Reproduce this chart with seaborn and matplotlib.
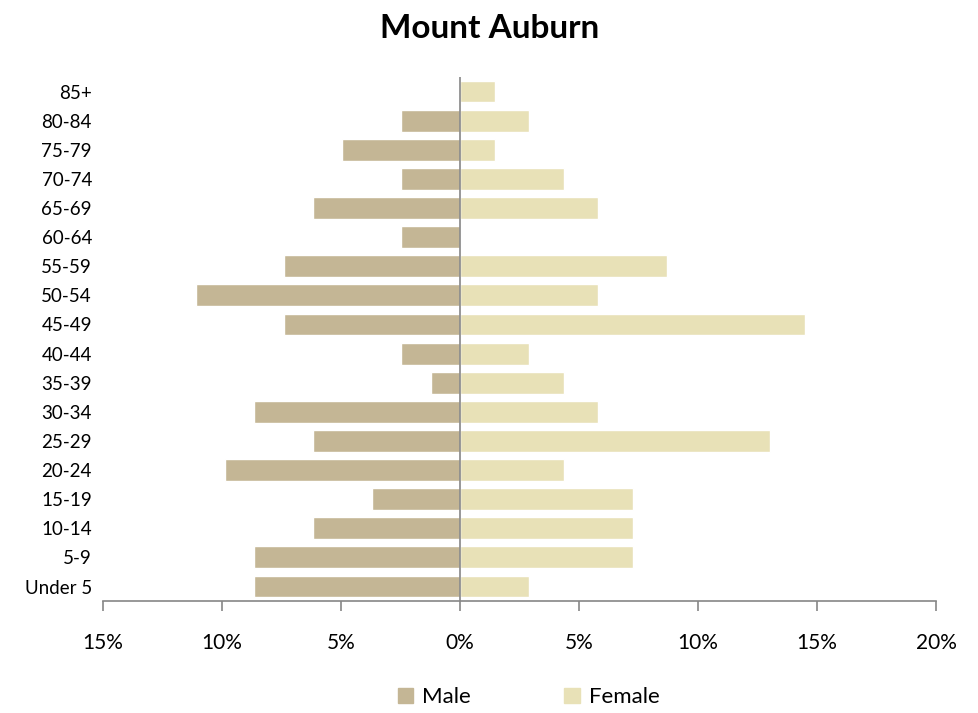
import seaborn as sns
import matplotlib.pyplot as plt
import pandas as pd

ages = ['85+', '80-84', '75-79', '70-74', '65-69', '60-64', '55-59', '50-54', '45-49',
        '40-44', '35-39', '30-34', '25-29', '20-24', '15-19', '10-14', '5-9', 'Under 5']
male = [0.0, 2.47, 4.94, 2.47, 6.17, 2.47, 7.41, 11.11, 7.41,
        2.47, 1.23, 8.64, 6.17, 9.88, 3.70, 6.17, 8.64, 8.64]
female = [1.45, 2.90, 1.45, 4.35, 5.80, 0.0, 8.70, 5.80, 14.49,
          2.90, 4.35, 5.80, 13.04, 4.35, 7.25, 7.25, 7.25, 2.90]

df = pd.DataFrame({
    'age': ages * 2,
    'value': [-v for v in male] + female,
    'sex': ['Male'] * len(ages) + ['Female'] * len(ages),
})

sns.set_style('white')
plt.rcParams['font.family'] = ['Lato', 'DejaVu Sans']
plt.rcParams['text.color'] = 'black'
plt.rcParams['xtick.color'] = 'black'
plt.rcParams['ytick.color'] = 'black'

fig = plt.figure(figsize=(9.79, 7.13), dpi=100)
ax = fig.add_axes([0.1052, 0.157, 0.851, 0.735])

sns.barplot(data=df, x='value', y='age', hue='sex', order=ages, dodge=False,
            palette={'Male': '#C4B695', 'Female': '#E8E1B7'}, orient='h',
            width=0.75, ax=ax, legend=False, saturation=1)

ax.set_xlim(-15, 20)
ax.set_ylim(len(ages) - 0.5, -0.5)
ax.axvline(0, color='#868686', lw=1.2)
ax.set_xticks([-15, -10, -5, 0, 5, 10, 15, 20])
ax.set_xticklabels([f'{abs(t)}%' for t in [-15, -10, -5, 0, 5, 10, 15, 20]], fontsize=15)
ax.tick_params(axis='x', direction='out', length=7, width=1.2, color='#868686',
               labelcolor='black', pad=16, bottom=True)
ax.tick_params(axis='y', length=0, labelsize=13.5, labelcolor='black', pad=8)
ax.set_xlabel('')
ax.set_ylabel('')
for s in ['top', 'right', 'left']:
    ax.spines[s].set_visible(False)
ax.spines['bottom'].set_color('#868686')
ax.spines['bottom'].set_linewidth(1.2)

fig.suptitle('Mount Auburn', fontsize=24, fontweight='bold', y=0.98, color='black')

handles = [plt.Rectangle((0, 0), 1, 1, color='#C4B695'),
           plt.Rectangle((0, 0), 1, 1, color='#E8E1B7')]
fig.legend(handles, ['Male', 'Female'], loc='lower center', ncol=2, frameon=False,
           fontsize=16, bbox_to_anchor=(0.54, -0.02), handlelength=0.7, handleheight=0.7,
           columnspacing=4.2, handletextpad=0.4)

fig.savefig('out.png', dpi=100)
